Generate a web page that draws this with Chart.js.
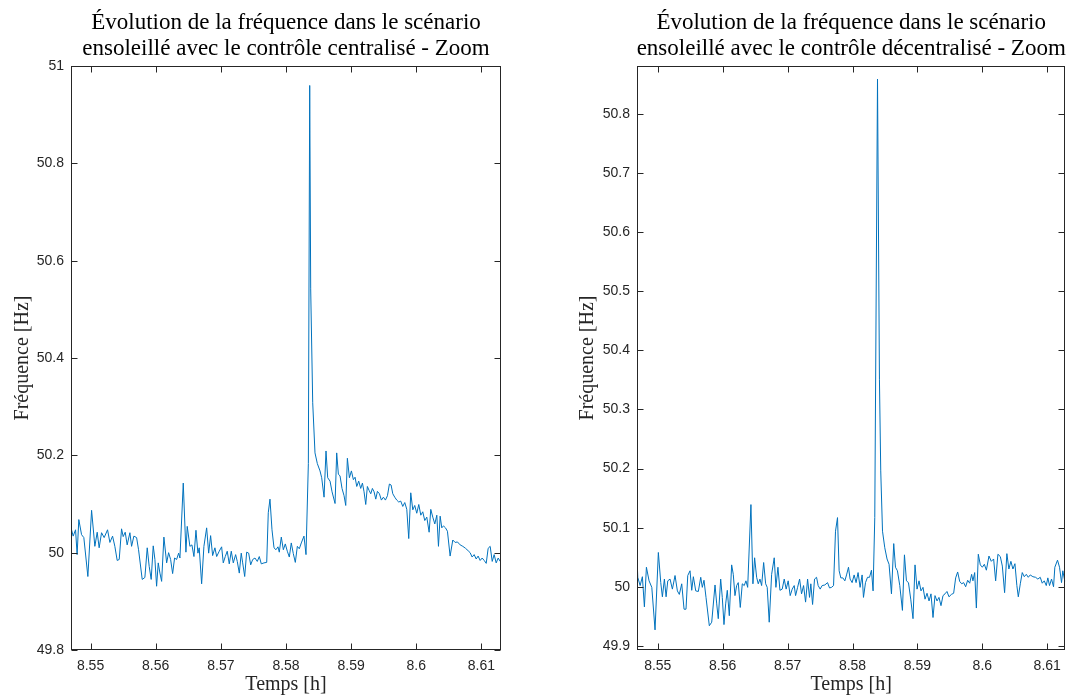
<!DOCTYPE html>
<html lang="fr">
<head>
<meta charset="utf-8">
<title>Évolution de la fréquence - Zoom</title>
<script src="https://cdn.jsdelivr.net/npm/chart.js@4.4.1/dist/chart.umd.min.js"></script>
<style>
    html, body { margin: 0; padding: 0; background: #fff; overflow: hidden; }
    #graficoCentralise { position: absolute; left: 0; top: 0; }
    #graficoDecentralise { position: absolute; left: 566px; top: 0; }
</style>
</head>
<body>
<canvas id="graficoCentralise" width="566" height="699"></canvas>
<canvas id="graficoDecentralise" width="503" height="699"></canvas>
<script>
// temps [h] et fréquence [Hz]
const tempsCentralise = [
    8.54693, 8.54733, 8.54770, 8.54794, 8.54820, 8.54862, 8.54897, 8.54959, 8.55016, 8.55066,
    8.55102, 8.55132, 8.55169, 8.55209, 8.55261, 8.55297, 8.55338, 8.55373, 8.55409, 8.55440,
    8.55476, 8.55501, 8.55532, 8.55562, 8.55604, 8.55630, 8.55665, 8.55707, 8.55737, 8.55793,
    8.55834, 8.55870, 8.55900, 8.55931, 8.55962, 8.55988, 8.56014, 8.56039, 8.56065, 8.56091,
    8.56126, 8.56168, 8.56198, 8.56229, 8.56260, 8.56290, 8.56321, 8.56352, 8.56372, 8.56423,
    8.56464, 8.56484, 8.56525, 8.56556, 8.56587, 8.56618, 8.56648, 8.56668, 8.56705, 8.56740,
    8.56782, 8.56813, 8.56843, 8.56874, 8.56909, 8.56936, 8.56975, 8.57012, 8.57037, 8.57068,
    8.57098, 8.57129, 8.57160, 8.57191, 8.57227, 8.57252, 8.57283, 8.57313, 8.57335, 8.57366,
    8.57396, 8.57427, 8.57458, 8.57489, 8.57524, 8.57559, 8.57590, 8.57621, 8.57662, 8.57704,
    8.57728, 8.57754, 8.57785, 8.57816, 8.57846, 8.57877, 8.57897, 8.57928, 8.57959, 8.57989,
    8.58020, 8.58051, 8.58081, 8.58112, 8.58143, 8.58174, 8.58204, 8.58235, 8.58276, 8.58307,
    8.58343, 8.58364, 8.58379, 8.58410, 8.58445, 8.58481, 8.58522, 8.58548, 8.58584, 8.58614,
    8.58640, 8.58676, 8.58707, 8.58753, 8.58778, 8.58804, 8.58829, 8.58860, 8.58891, 8.58917,
    8.58942, 8.58973, 8.59004, 8.59034, 8.59060, 8.59086, 8.59116, 8.59147, 8.59173, 8.59198,
    8.59224, 8.59249, 8.59275, 8.59301, 8.59326, 8.59352, 8.59378, 8.59403, 8.59434, 8.59464,
    8.59495, 8.59526, 8.59557, 8.59587, 8.59613, 8.59639, 8.59669, 8.59700, 8.59731, 8.59761,
    8.59792, 8.59823, 8.59854, 8.59884, 8.59915, 8.59946, 8.59976, 8.60007, 8.60038, 8.60069,
    8.60099, 8.60130, 8.60161, 8.60197, 8.60222, 8.60253, 8.60284, 8.60315, 8.60340, 8.60366,
    8.60391, 8.60417, 8.60448, 8.60478, 8.60519, 8.60560, 8.60596, 8.60632, 8.60673, 8.60714,
    8.60755, 8.60796, 8.60826, 8.60857, 8.60888, 8.60919, 8.60949, 8.60980, 8.61011, 8.61042,
    8.61073, 8.61103, 8.61134, 8.61165, 8.61195, 8.61226, 8.61257, 8.61288
];
const freqCentralise = [
    50.055, 50.034, 50.047, 49.996, 50.068, 50.037, 50.031, 49.951, 50.087, 50.013,
    50.042, 50.010, 50.041, 50.031, 50.047, 50.021, 50.034, 50.013, 49.984, 49.986,
    50.049, 50.033, 50.042, 50.016, 50.041, 50.013, 50.034, 50.031, 50.006, 49.945,
    49.949, 50.010, 49.972, 49.945, 50.014, 49.986, 49.931, 49.979, 49.958, 49.941,
    50.032, 49.979, 50.000, 49.986, 49.957, 49.989, 49.986, 49.999, 49.989, 50.143,
    50.001, 50.054, 50.013, 50.016, 49.992, 50.046, 49.999, 50.010, 49.936, 50.013,
    50.051, 49.999, 50.035, 49.994, 50.010, 49.992, 50.003, 50.012, 49.979, 49.992,
    50.003, 49.977, 50.003, 49.979, 49.996, 49.982, 49.958, 49.999, 49.979, 49.951,
    50.001, 49.999, 49.975, 49.986, 49.989, 49.982, 49.992, 49.977, 49.979, 49.980,
    50.082, 50.110, 50.047, 50.010, 50.006, 50.012, 50.001, 50.032, 50.006, 50.018,
    50.003, 49.991, 50.020, 49.998, 49.980, 50.013, 50.008, 50.020, 50.034, 49.996,
    50.183, 50.960, 50.542, 50.308, 50.205, 50.183, 50.168, 50.154, 50.114, 50.209,
    50.154, 50.147, 50.125, 50.101, 50.205, 50.161, 50.158, 50.132, 50.117, 50.097,
    50.194, 50.154, 50.168, 50.150, 50.155, 50.136, 50.147, 50.132, 50.143, 50.125,
    50.099, 50.136, 50.128, 50.121, 50.132, 50.125, 50.110, 50.126, 50.121, 50.108,
    50.114, 50.108, 50.117, 50.141, 50.139, 50.121, 50.114, 50.108, 50.104, 50.106,
    50.095, 50.103, 50.089, 50.029, 50.123, 50.088, 50.097, 50.081, 50.099, 50.077,
    50.084, 50.066, 50.073, 50.042, 50.089, 50.073, 50.059, 50.077, 50.013, 50.075,
    50.051, 50.055, 50.051, 50.044, 49.993, 50.026, 50.021, 50.022, 50.016, 50.013,
    50.009, 50.004, 50.000, 49.991, 49.996, 49.987, 49.993, 49.984, 49.989, 49.984,
    49.978, 50.009, 50.013, 49.982, 49.996, 49.979, 49.989, 49.982
];

const tempsDecentralise = [
    8.54677, 8.54692, 8.54728, 8.54763, 8.54794, 8.54825, 8.54866, 8.54908, 8.54958, 8.55009,
    8.55046, 8.55071, 8.55102, 8.55128, 8.55154, 8.55189, 8.55225, 8.55266, 8.55302, 8.55332,
    8.55369, 8.55405, 8.55435, 8.55462, 8.55497, 8.55523, 8.55548, 8.55585, 8.55625, 8.55662,
    8.55686, 8.55712, 8.55743, 8.55794, 8.55831, 8.55882, 8.55908, 8.55932, 8.55969, 8.55994,
    8.56020, 8.56046, 8.56071, 8.56102, 8.56138, 8.56163, 8.56189, 8.56215, 8.56240, 8.56271,
    8.56302, 8.56332, 8.56358, 8.56385, 8.56435, 8.56466, 8.56492, 8.56523, 8.56548, 8.56574,
    8.56600, 8.56631, 8.56662, 8.56686, 8.56717, 8.56754, 8.56794, 8.56820, 8.56851, 8.56882,
    8.56917, 8.56948, 8.56978, 8.57009, 8.57040, 8.57071, 8.57102, 8.57123, 8.57154, 8.57185,
    8.57215, 8.57246, 8.57277, 8.57308, 8.57338, 8.57358, 8.57385, 8.57415, 8.57446, 8.57471,
    8.57502, 8.57532, 8.57574, 8.57615, 8.57646, 8.57677, 8.57708, 8.57738, 8.57769, 8.57794,
    8.57820, 8.57851, 8.57882, 8.57908, 8.57938, 8.57963, 8.57994, 8.58025, 8.58055, 8.58086,
    8.58117, 8.58148, 8.58169, 8.58200, 8.58231, 8.58262, 8.58292, 8.58317, 8.58343, 8.58385,
    8.58415, 8.58435, 8.58462, 8.58497, 8.58532, 8.58563, 8.58600, 8.58635, 8.58662, 8.58692,
    8.58728, 8.58769, 8.58800, 8.58831, 8.58862, 8.58897, 8.58932, 8.58963, 8.58994, 8.59025,
    8.59055, 8.59086, 8.59117, 8.59148, 8.59179, 8.59209, 8.59240, 8.59271, 8.59302, 8.59332,
    8.59363, 8.59394, 8.59425, 8.59455, 8.59486, 8.59523, 8.59558, 8.59589, 8.59620, 8.59651,
    8.59682, 8.59712, 8.59743, 8.59774, 8.59805, 8.59835, 8.59855, 8.59882, 8.59908, 8.59938,
    8.59969, 8.60000, 8.60031, 8.60062, 8.60102, 8.60138, 8.60174, 8.60205, 8.60240, 8.60277,
    8.60308, 8.60343, 8.60378, 8.60409, 8.60440, 8.60471, 8.60502, 8.60532, 8.60554, 8.60585,
    8.60615, 8.60646, 8.60677, 8.60708, 8.60738, 8.60779, 8.60820, 8.60855, 8.60892, 8.60923,
    8.60954, 8.60985, 8.61009, 8.61035, 8.61066, 8.61097, 8.61117, 8.61158, 8.61189, 8.61220,
    8.61240, 8.61271
];
const freqDecentralise = [
    50.058, 50.016, 50.002, 50.017, 49.966, 50.033, 50.010, 49.999, 49.927, 50.058,
    50.007, 49.983, 50.013, 49.983, 50.010, 50.013, 49.996, 50.019, 49.993, 49.987,
    50.005, 49.962, 49.962, 50.019, 50.027, 49.994, 50.017, 49.993, 49.992, 50.016,
    49.999, 50.011, 49.982, 49.934, 49.940, 50.003, 49.971, 49.946, 50.013, 49.982,
    49.936, 49.971, 49.994, 49.951, 50.037, 50.021, 49.985, 50.002, 50.007, 49.965,
    50.005, 50.002, 50.010, 49.999, 50.139, 50.005, 50.049, 50.016, 50.005, 50.013,
    50.002, 50.041, 50.005, 49.999, 49.940, 50.021, 50.049, 49.999, 50.033, 49.994,
    49.996, 50.013, 49.996, 50.010, 49.985, 49.996, 50.002, 49.985, 49.999, 50.013,
    49.988, 50.002, 49.974, 50.013, 49.982, 50.005, 49.970, 50.013, 50.016, 50.002,
    49.996, 50.002, 50.003, 50.007, 49.998, 49.999, 50.002, 50.094, 50.117, 50.027,
    50.015, 50.015, 50.010, 50.020, 50.033, 50.013, 50.007, 50.020, 50.007, 50.024,
    49.999, 50.020, 49.982, 50.007, 50.016, 50.016, 50.028, 49.993, 50.117, 50.859,
    50.350, 50.196, 50.094, 50.066, 50.047, 50.038, 49.988, 50.073, 50.033, 50.027,
    50.002, 49.960, 50.054, 50.010, 50.007, 49.979, 49.946, 50.037, 49.996, 50.010,
    49.993, 49.999, 49.979, 49.989, 49.976, 49.988, 49.948, 49.985, 49.976, 49.982,
    49.968, 49.985, 49.988, 49.992, 49.983, 49.987, 49.989, 50.015, 50.025, 50.009,
    50.005, 50.007, 50.000, 50.011, 50.006, 50.021, 50.010, 50.024, 49.964, 50.055,
    50.037, 50.033, 50.038, 50.028, 50.052, 50.043, 50.047, 50.010, 50.055, 50.051,
    50.035, 49.990, 50.056, 50.030, 50.043, 50.030, 50.039, 50.002, 49.983, 50.005,
    50.024, 50.017, 50.021, 50.016, 50.020, 50.017, 50.016, 50.013, 50.016, 50.006,
    50.010, 50.002, 50.015, 50.002, 50.013, 50.000, 50.033, 50.045, 50.033, 50.007,
    50.027, 50.009
];

const ticksTemps = [8.55, 8.56, 8.57, 8.58, 8.59, 8.6, 8.61];
const ticksFreqCentralise = [49.8, 50, 50.2, 50.4, 50.6, 50.8, 51];
const ticksFreqDecentralise = [49.9, 50, 50.1, 50.2, 50.3, 50.4, 50.5, 50.6, 50.7, 50.8];

const titreCentralise = ['Évolution de la fréquence dans le scénario', 'ensoleillé avec le contrôle centralisé - Zoom'];
const titreDecentralise = ['Évolution de la fréquence dans le scénario', 'ensoleillé avec le contrôle décentralisé - Zoom'];

const corTexto = '#262626';
const fonteSerif = '"Liberation Serif", "DejaVu Serif", serif';
const fonteEixo = '"Liberation Sans", Arial, sans-serif';

// boîte + graduations vers l'intérieur, comme sous MATLAB
const cadreMatlab = {
    id: 'cadreMatlab',
    afterDatasetsDraw(chart) {
        const { ctx, chartArea: a, scales } = chart;
        const L = 6;
        ctx.save();
        ctx.strokeStyle = corTexto;
        ctx.lineWidth = 1;
        const x0 = Math.round(a.left) + 0.5, x1 = Math.round(a.right) - 0.5;
        const y0 = Math.round(a.top) + 0.5, y1 = Math.round(a.bottom) - 0.5;
        ctx.strokeRect(x0, y0, x1 - x0, y1 - y0);
        ctx.beginPath();
        scales.x.ticks.forEach(t => {
            const px = Math.round(scales.x.getPixelForValue(t.value)) + 0.5;
            ctx.moveTo(px, y1); ctx.lineTo(px, y1 - L);
            ctx.moveTo(px, y0); ctx.lineTo(px, y0 + L);
        });
        scales.y.ticks.forEach(t => {
            const py = Math.round(scales.y.getPixelForValue(t.value)) + 0.5;
            ctx.moveTo(x0, py); ctx.lineTo(x0 + L, py);
            ctx.moveTo(x1, py); ctx.lineTo(x1 - L, py);
        });
        ctx.stroke();
        ctx.restore();
    }
};

// titre sur deux lignes centré sur la zone de tracé
const titreDeuxLignes = {
    id: 'titreDeuxLignes',
    afterDraw(chart, args, opts) {
        const { ctx, chartArea: a } = chart;
        ctx.save();
        ctx.font = '23px ' + fonteSerif;
        ctx.fillStyle = '#000';
        ctx.textAlign = 'center';
        ctx.textBaseline = 'alphabetic';
        const cx = (a.left + a.right) / 2;
        opts.lignes.forEach((l, i) => ctx.fillText(l, cx, 29 + i * 26));
        ctx.restore();
    }
};

function criarGrafico(idCanvas, tempos, freqs, titre, ticksY, yMin, yMax, xMin, xMax, padDireita, posTitreY) {
    const ctx = document.getElementById(idCanvas).getContext('2d');
    const pontos = tempos.map((t, i) => ({ x: t, y: freqs[i] }));
    return new Chart(ctx, {
        type: 'line',
        data: {
            datasets: [{
                data: pontos,
                borderColor: '#0072BD',
                borderWidth: 1,
                pointRadius: 0,
                tension: 0,
                fill: false
            }]
        },
        options: {
            responsive: false,
            animation: false,
            devicePixelRatio: 1,
            layout: { padding: { left: 0, right: padDireita, top: 66, bottom: 0 } },
            plugins: {
                legend: { display: false },
                tooltip: { enabled: false },
                titreDeuxLignes: { lignes: titre }
            },
            scales: {
                x: {
                    type: 'linear',
                    min: xMin,
                    max: xMax,
                    grid: { display: false, drawTicks: false },
                    border: { display: false },
                    afterBuildTicks: s => { s.ticks = ticksTemps.map(v => ({ value: v })); },
                    afterFit: s => { s.height = 49; },
                    ticks: {
                        autoSkip: false,
                        maxRotation: 0,
                        padding: 8,
                        color: corTexto,
                        font: { family: fonteEixo, size: 14 },
                        callback: v => String(v)
                    },
                    title: {
                        display: true,
                        text: 'Temps [h]',
                        color: corTexto,
                        font: { family: fonteSerif, size: 20 },
                        padding: { top: 0, bottom: 2 }
                    }
                },
                y: {
                    type: 'linear',
                    min: yMin,
                    max: yMax,
                    grid: { display: false, drawTicks: false },
                    border: { display: false },
                    afterBuildTicks: s => { s.ticks = ticksY.map(v => ({ value: v })); },
                    afterFit: s => { s.width = 71; },
                    ticks: {
                        autoSkip: false,
                        padding: 7,
                        color: corTexto,
                        font: { family: fonteEixo, size: 14 },
                        callback: v => String(v)
                    },
                    title: {
                        display: true,
                        text: 'Fréquence [Hz]',
                        color: corTexto,
                        font: { family: fonteSerif, size: 20 },
                        padding: { top: posTitreY, bottom: 0 }
                    }
                }
            }
        },
        plugins: [cadreMatlab, titreDeuxLignes]
    });
}

criarGrafico('graficoCentralise', tempsCentralise, freqCentralise, titreCentralise,
    ticksFreqCentralise, 49.8, 51, 8.5470, 8.6130, 65, 11);
criarGrafico('graficoDecentralise', tempsDecentralise, freqDecentralise, titreDecentralise,
    ticksFreqDecentralise, 49.893, 50.881, 8.5468, 8.6128, 3, 10);
</script>
</body>
</html>
